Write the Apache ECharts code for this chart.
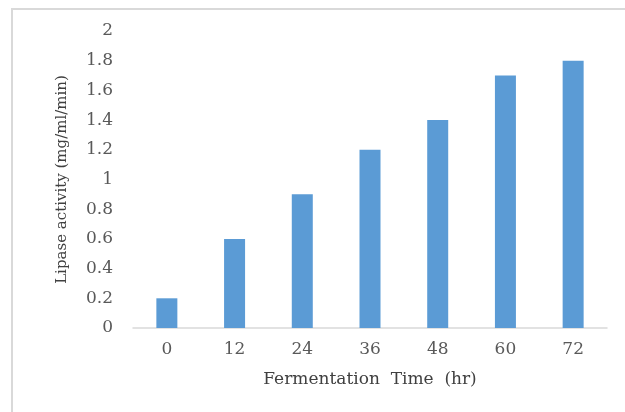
<!DOCTYPE html>
<html><head><meta charset="utf-8">
<script src="https://cdn.jsdelivr.net/npm/echarts@6/dist/echarts.min.js"></script>
<style>html,body{margin:0;padding:0;background:#fff}#c{width:625px;height:412px}</style>
</head><body><div id="c"></div>
<script>
const categories = ['0','12','24','36','48','60','72'];
const lipaseActivity = [0.2, 0.6, 0.9, 1.2, 1.4, 1.7, 1.8];
const xTitle = 'Fermentation  Time  (hr)';
const yTitle = 'Lipase activity (mg/ml/min)';

const chart = echarts.init(document.getElementById('c'), null, {renderer:'canvas'});
const font = '"DejaVu Serif", "Liberation Serif", serif';
chart.setOption({
  animation:false,
  graphic:[{type:'rect', shape:{x:12, y:9, width:700, height:500}, style:{fill:'none', stroke:'#d9d9d9', lineWidth:2}, silent:true}],
  grid:{left:133, right:18, top:31, bottom:84},
  xAxis:{type:'category', data:categories,
    axisLine:{lineStyle:{color:'#d9d9d9', width:1.5}}, axisTick:{show:false},
    axisLabel:{color:'#595959', fontFamily:font, fontSize:17, margin:13},
    name:xTitle, nameLocation:'middle', nameGap:43,
    nameTextStyle:{color:'#404040', fontFamily:font, fontSize:17}},
  yAxis:{type:'value', min:0, max:2, interval:0.2,
    axisLine:{show:false}, axisTick:{show:false}, splitLine:{show:false},
    axisLabel:{color:'#595959', fontFamily:font, fontSize:17, margin:20,
      formatter:v=>String(Math.round(v*10)/10)},
    name:yTitle, nameLocation:'middle', nameGap:63, nameRotate:90,
    nameTextStyle:{color:'#404040', fontFamily:font, fontSize:15}},
  series:[{type:'bar', data:lipaseActivity, barWidth:21, itemStyle:{color:'#5b9bd5'}}]
});
</script></body></html>
